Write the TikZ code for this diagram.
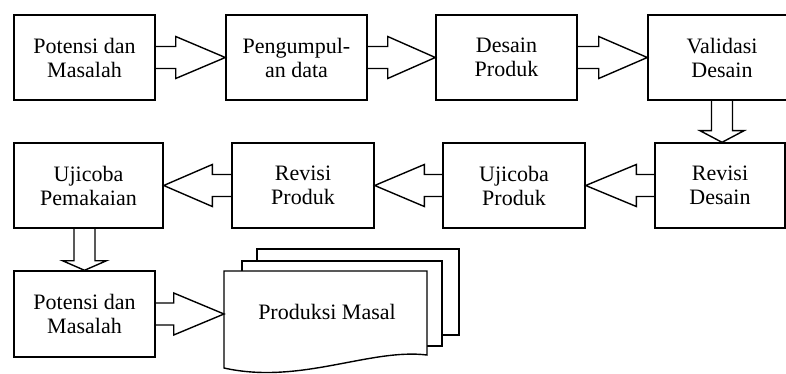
\documentclass[tikz,border=0pt]{standalone}
\usepackage{fontspec}
\setmainfont{Liberation Serif}
\usetikzlibrary{calc}
\tikzset{
  stepbox/.style={draw=black, line width=1.4pt, fill=white, inner sep=0pt,
    minimum height=85pt, align=center, font=\fontsize{22}{24}\selectfont},
  blk/.style={draw=black, line width=1.4pt, line join=miter},
  docshape/.style={draw=black, line width=1.4pt, fill=white},
  lbl/.style={inner sep=0pt, align=center, font=\fontsize{22}{24}\selectfont}
}
\newcommand{\blockarrowH}[3]{%
  \draw[blk] ($(#1)+(0,-11)$) -- ($(#1)+(#3,-11)$) -- ($(#1)+(#3,-21)$) -- (#2)
    -- ($(#1)+(#3,21)$) -- ($(#1)+(#3,11)$) -- ($(#1)+(0,11)$);}
\newcommand{\blockarrowV}[3]{%
  \draw[blk] ($(#1)+(-10.5,0)$) -- ($(#1)+(-10.5,#3)$) -- ($(#1)+(-22,#3)$) -- (#2)
    -- ($(#1)+(22,#3)$) -- ($(#1)+(10.5,#3)$) -- ($(#1)+(10.5,0)$);}
\begin{document}
\begin{tikzpicture}[x=1pt, y=-1pt]
\useasboundingbox (0,0) rectangle (786,374);
\clip (0,0) rectangle (786,374);
% row 1
\node[stepbox, minimum width=141pt] (b1) at (84.5,57.5) {Potensi dan\\Masalah};
\node[stepbox, minimum width=141pt] (b2) at (296.5,57.5) {Pengumpul-\\an data};
\node[stepbox, minimum width=141pt] (b3) at (506.5,57.5) {Desain\\Produk};
\node[stepbox, minimum width=148pt] (b4) at (722,57.5) {Validasi\\Desain};
% row 2
\node[stepbox, minimum width=130pt] (b5) at (720,185.5) {Revisi\\Desain};
\node[stepbox, minimum width=142pt] (b6) at (514,185.5) {Ujicoba\\Produk};
\node[stepbox, minimum width=142pt] (b7) at (303,185.5) {Revisi\\Produk};
\node[stepbox, minimum width=149pt] (b8) at (88.5,185.5) {Ujicoba\\Pemakaian};
% row 3
\node[stepbox, minimum width=141pt, minimum height=86pt] (b9) at (84.5,314) {Potensi dan\\Masalah};
% document stack
\draw[docshape] (257,249) rectangle (459,335);
\draw[docshape] (242,261) rectangle (442,346);
\draw[docshape] (224,271) -- (427,271) -- (427,355)
  .. controls (370,348) and (300,385) .. (224,368) -- cycle;
\node[lbl] (doc) at (327,312) {Produksi Masal};
\coordinate (docw) at (224,314);
% connectors
\blockarrowH{b1.east}{b2.west}{20}
\blockarrowH{b2.east}{b3.west}{20}
\blockarrowH{b3.east}{b4.west}{21}
\blockarrowV{b4.south}{b4.south |- b5.north}{30}
\blockarrowH{b5.west}{b6.east}{-18}
\blockarrowH{b6.west}{b7.east}{-18}
\blockarrowH{b7.west}{b8.east}{-19}
\blockarrowV{b9.north |- b8.south}{b9.north}{32}
\blockarrowH{b9.east}{docw}{18}
\end{tikzpicture}
\end{document}
